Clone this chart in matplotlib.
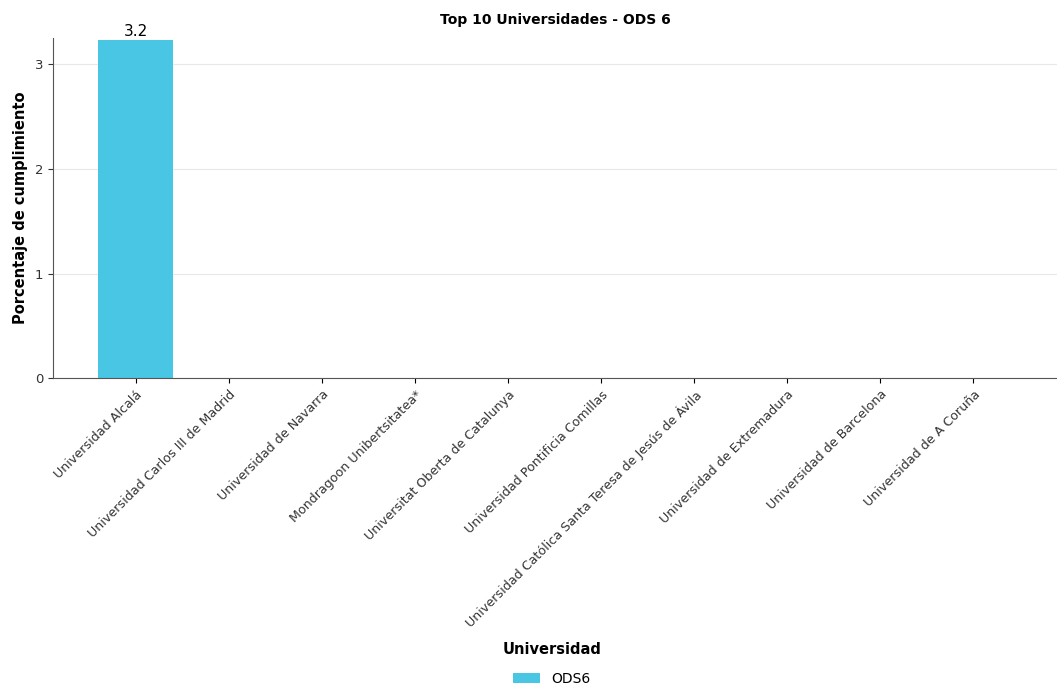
import matplotlib
matplotlib.use("Agg")
import matplotlib.pyplot as plt

universidades = [
    "Universidad Alcalá",
    "Universidad Carlos III de Madrid",
    "Universidad de Navarra",
    "Mondragoon Unibertsitatea*",
    "Universitat Oberta de Catalunya",
    "Universidad Pontificia Comillas",
    "Universidad Católica Santa Teresa de Jesús de Ávila",
    "Universidad de Extremadura",
    "Universidad de Barcelona",
    "Universidad de A Coruña",
]
ods6 = [3.23, 0, 0, 0, 0, 0, 0, 0, 0, 0]

fig = plt.figure(figsize=(10.57, 6.89), dpi=100)
ax = fig.add_axes([0.050, 0.451, 0.950, 0.494])

x = list(range(len(universidades)))
bars = ax.bar(x, ods6, width=0.8, color="#48c6e4", label="ODS6", zorder=2)
ax.bar_label(bars, labels=["%.1f" % ods6[0]] + [""] * (len(ods6) - 1),
             fontsize=11, padding=1)

ax.set_xlim(-0.89, 9.9)
ax.set_ylim(0, 3.25)
ax.set_yticks([0, 1, 2, 3])
ax.set_xticks(x)
ax.set_xticklabels(universidades, rotation=45, ha="right",
                   rotation_mode="anchor", fontsize=9.1, color="#333333")
ax.tick_params(axis="y", labelsize=9.5, colors="#333333")
ax.grid(axis="y", color="#e8e8e8", lw=0.8, zorder=0)

ax.spines["top"].set_visible(False)
ax.spines["right"].set_visible(False)
ax.spines["left"].set_color("#555555")
ax.spines["bottom"].set_color("#555555")

ax.set_title("Top 10 Universidades - ODS 6", fontsize=10, fontweight="bold", pad=10)
ax.set_ylabel("Porcentaje de cumplimiento", fontsize=10.5, fontweight="bold", labelpad=5)

leg = fig.legend(loc="lower center", bbox_to_anchor=(0.522, -0.014), frameon=False,
                 title="Universidad", fontsize=10, handlelength=2.0,
                 labelspacing=1.1)
leg.get_title().set_fontweight("bold")
leg.get_title().set_fontsize(10.5)

fig.savefig("out.png", dpi=100)
